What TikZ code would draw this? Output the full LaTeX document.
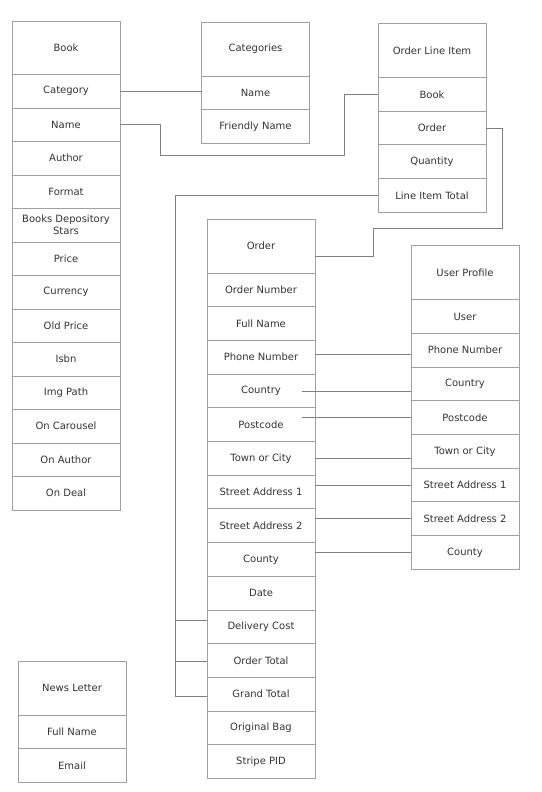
\documentclass[tikz,border=0pt]{standalone}
\usepackage{fontspec}
\setmainfont{DejaVu Sans}
\usetikzlibrary{positioning}
\definecolor{boxgray}{HTML}{A0A0A0}
\definecolor{linkgray}{HTML}{808080}
\definecolor{textgray}{HTML}{333333}
\begin{document}
\begin{tikzpicture}[x=1pt, y=-1pt, node distance=0pt,
  title/.style = {draw=boxgray, line width=0.9pt, minimum width=108pt, minimum height=54pt,
    outer sep=0pt, anchor=north west, text=textgray, font=\fontsize{10}{12}\selectfont},
  field/.style = {draw=boxgray, line width=0.9pt, minimum width=108pt, minimum height=33.7pt,
    outer sep=0pt, text=textgray, align=center, font=\fontsize{10}{12}\selectfont},
  link/.style = {draw=linkgray, line width=0.9pt}]
\useasboundingbox (0,0) rectangle (541,792);

% Book
\begin{scope}[title/.append style={minimum height=53.5pt}, field/.append style={minimum height=33.5pt}]
\node[title] (book) at (12,21) {Book};
\node[field, below=of book] (bkCategory) {Category};
\node[field, below=of bkCategory] (bkName) {Name};
\node[field, below=of bkName] (bkAuthor) {Author};
\node[field, below=of bkAuthor] (bkFormat) {Format};
\node[field, below=of bkFormat] (bkStars) {Books Depository\\Stars};
\node[field, below=of bkStars] (bkPrice) {Price};
\node[field, below=of bkPrice] (bkCurrency) {Currency};
\node[field, below=of bkCurrency] (bkOldPrice) {Old Price};
\node[field, below=of bkOldPrice] (bkIsbn) {Isbn};
\node[field, below=of bkIsbn] (bkImg) {Img Path};
\node[field, below=of bkImg] (bkCarousel) {On Carousel};
\node[field, below=of bkCarousel] (bkOnAuthor) {On Author};
\node[field, below=of bkOnAuthor] (bkDeal) {On Deal};
\end{scope}

% Categories
\node[title] (categories) at (201.5,22) {Categories};
\node[field, below=of categories] (catName) {Name};
\node[field, below=of catName] (catFriendly) {Friendly Name};

% Order Line Item
\node[title] (oli) at (378,23.5) {Order Line Item};
\node[field, below=of oli] (oliBook) {Book};
\node[field, below=of oliBook] (oliOrder) {Order};
\node[field, below=of oliOrder] (oliQuantity) {Quantity};
\node[field, below=of oliQuantity] (oliTotal) {Line Item Total};

% Order
\node[title] (order) at (207,219) {Order};
\node[field, below=of order] (ordNumber) {Order Number};
\node[field, below=of ordNumber] (ordFullName) {Full Name};
\node[field, below=of ordFullName] (ordPhone) {Phone Number};
\node[field, below=of ordPhone] (ordCountry) {Country};
\node[field, below=of ordCountry] (ordPostcode) {Postcode};
\node[field, below=of ordPostcode] (ordTown) {Town or City};
\node[field, below=of ordTown] (ordStreetA) {Street Address 1};
\node[field, below=of ordStreetA] (ordStreetB) {Street Address 2};
\node[field, below=of ordStreetB] (ordCounty) {County};
\node[field, below=of ordCounty] (ordDate) {Date};
\node[field, below=of ordDate] (ordDelivery) {Delivery Cost};
\node[field, below=of ordDelivery] (ordTotal) {Order Total};
\node[field, below=of ordTotal] (ordGrand) {Grand Total};
\node[field, below=of ordGrand] (ordBag) {Original Bag};
\node[field, below=of ordBag] (ordStripe) {Stripe PID};

% User Profile
\node[title] (profile) at (411,245.7) {User Profile};
\node[field, below=of profile] (upUser) {User};
\node[field, below=of upUser] (upPhone) {Phone Number};
\node[field, below=of upPhone] (upCountry) {Country};
\node[field, below=of upCountry] (upPostcode) {Postcode};
\node[field, below=of upPostcode] (upTown) {Town or City};
\node[field, below=of upTown] (upStreetA) {Street Address 1};
\node[field, below=of upStreetA] (upStreetB) {Street Address 2};
\node[field, below=of upStreetB] (upCounty) {County};

% News Letter
\node[title] (news) at (18,661) {News Letter};
\node[field, below=of news] (nlFullName) {Full Name};
\node[field, below=of nlFullName] (nlEmail) {Email};

% links
\draw[link] (bkCategory.east) -- (bkCategory.east -| catName.west);
\draw[link] (bkName.east) -- ++(40,0) -- ++(0,30.2) -- ++(184,0) |- (oliBook.west);
\draw[link] (oliOrder.east) -- ++(16,0) -- ++(0,100) -- ++(-129,0) |- ([yshift=-10pt]order.east);
\draw[link] (oliTotal.west) -| ([xshift=-32pt,yshift=-2.5pt]ordGrand.west) -- ([yshift=-2.5pt]ordGrand.west);
\draw[link] ([xshift=-32pt,yshift=6pt]ordDelivery.west) -- ([yshift=6pt]ordDelivery.west);
\draw[link] ([xshift=-32pt,yshift=-1pt]ordTotal.west) -- ([yshift=-1pt]ordTotal.west);
\draw[link] ([yshift=3pt]ordPhone.east) -- ([yshift=3pt]ordPhone.east -| upPhone.west);
\draw[link] ([xshift=-13pt]ordCountry.east) -- (ordCountry.east -| upCountry.west);
\draw[link] (upPostcode.west) -- ([xshift=-13pt]upPostcode.west -| ordPostcode.east);
\draw[link] (ordTown.east) -- (ordTown.east -| upTown.west);
\draw[link] (upStreetA.west) -- (upStreetA.west -| ordStreetA.east);
\draw[link] (upStreetB.west) -- (upStreetB.west -| ordStreetB.east);
\draw[link] (upCounty.west) -- (upCounty.west -| ordCounty.east);
\end{tikzpicture}
\end{document}
